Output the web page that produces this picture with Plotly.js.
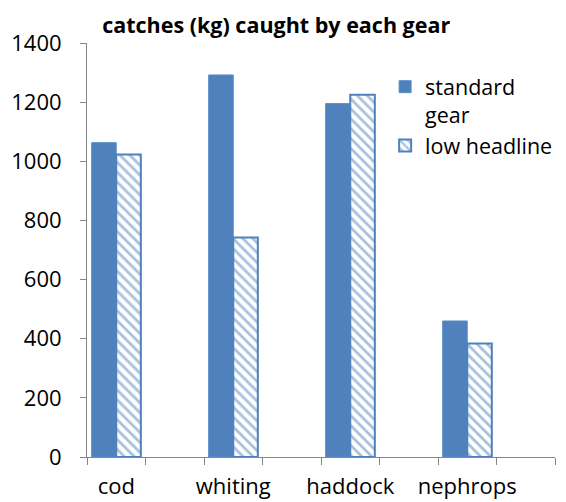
<!DOCTYPE html>
<html>
<head>
<meta charset="utf-8">
<script src="https://cdn.plot.ly/plotly-3.0.1.min.js"></script>
<style>html,body{margin:0;padding:0;background:#fff;}#chart{width:566px;height:502px;}</style>
</head>
<body>
<div id="chart"></div>
<script>
// categories (blank spacer categories as in the source sheet)
const categories = ["cod", " ", "whiting", "  ", "haddock", "   ", "nephrops", "    "];
const standardGear = [1063, null, 1292, null, 1195, null, 460, null];
const lowHeadline = [1023, null, 742, null, 1225, null, 384, null];
const seriesNames = ["standard<br>gear", "low headline"];
const yTicks = [0, 200, 400, 600, 800, 1000, 1200, 1400];

const blue = "#4F81BD";
const font = "Open Sans, sans-serif";

const traces = [
  {
    type: "bar", x: categories, y: standardGear, name: seriesNames[0],
    marker: {color: blue, line: {color: "#5B8CC8", width: 1}},
    hoverinfo: "none"
  },
  {
    type: "bar", x: categories, y: lowHeadline, name: seriesNames[1],
    marker: {
      color: "#ffffff",
      line: {color: blue, width: 2},
      pattern: {shape: "\\", fgcolor: blue, bgcolor: "#ffffff", size: 7, solidity: 0.4, fillmode: "overlay"}
    },
    hoverinfo: "none"
  }
];

const layout = {
  width: 566, height: 502,
  margin: {l: 87, r: 11, t: 43, b: 45, autoexpand: false},
  paper_bgcolor: "#ffffff", plot_bgcolor: "#ffffff",
  font: {family: font, color: "#000000", size: 22},
  title: {
    text: "<b>catches (kg) caught by each gear</b>",
    font: {family: font, size: 21.5, color: "#000000"},
    x: 0.488, xanchor: "center", y: 0.95, yanchor: "middle"
  },
  barmode: "group", bargap: 0.16, bargroupgap: 0,
  showlegend: true,
  legend: {
    x: 0.637, y: 0.944, xanchor: "left", yanchor: "top",
    font: {family: font, size: 21.5, color: "#000000"},
    bgcolor: "rgba(0,0,0,0)", traceorder: "normal", valign: "top",
    itemwidth: 30, tracegroupgap: 0
  },
  xaxis: {
    type: "category", categoryorder: "array", categoryarray: categories,
    tickson: "boundaries", ticks: "outside", ticklen: 7, tickcolor: "#868686", tickwidth: 1,
    showline: true, linecolor: "#868686", linewidth: 1,
    showgrid: false, zeroline: false, tickangle: 0, automargin: false,
    tickfont: {family: font, size: 22, color: "#000000"},
    ticklabelstandoff: 10
  },
  yaxis: {
    range: [0, 1400], tickvals: yTicks, ticktext: yTicks.map(String),
    ticks: "outside", ticklen: 6, tickcolor: "#868686", tickwidth: 1,
    showline: true, linecolor: "#868686", linewidth: 1,
    showgrid: false, zeroline: false, automargin: false,
    tickfont: {family: font, size: 22, color: "#000000"},
    ticklabelstandoff: 14
  }
};

Plotly.newPlot("chart", traces, layout, {staticPlot: true, displayModeBar: false});
</script>
</body>
</html>
